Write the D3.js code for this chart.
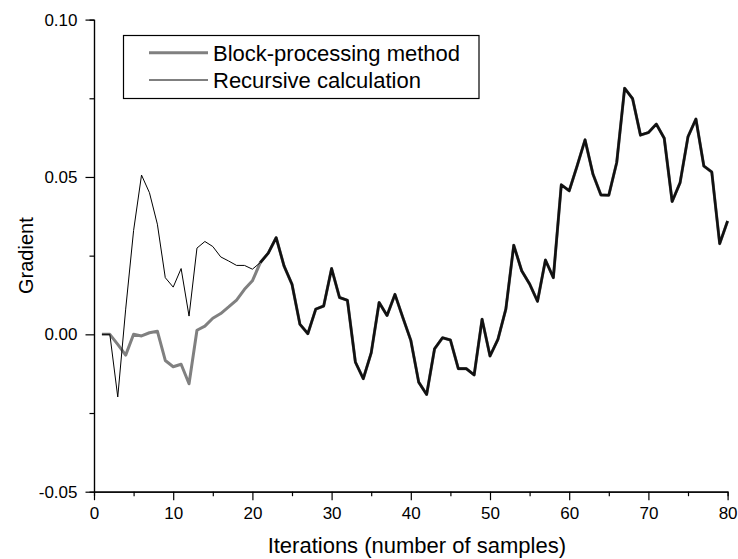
<!DOCTYPE html>
<html>
<head>
<meta charset="utf-8">
<script src="https://cdn.jsdelivr.net/npm/d3@7"></script>
<style>
  body { margin: 0; background: #fff; }
  svg { display: block; font-family: "Liberation Sans", Arial, sans-serif; }
  .axis path, .axis line { stroke: #000; stroke-width: 1.2; }
  .axis text { font-size: 17px; fill: #000; }
</style>
</head>
<body>
<div class="chart"></div>
<script>
// iterations 1..80 on the x axis
const iterations = d3.range(1, 81);

// first 20 iterations differ, after that both methods give the same gradient
const blockHead = [0, 0, -0.0032, -0.0066, 0, -0.0005, 0.0005, 0.001, -0.0083, -0.0103,
  -0.0095, -0.0157, 0.0013, 0.0026, 0.0051, 0.0066, 0.0087, 0.0109, 0.0143, 0.017];
const recursiveHead = [0, 0, -0.0199, 0.008, 0.033, 0.0506, 0.045, 0.035, 0.018, 0.015,
  0.0209, 0.0058, 0.0274, 0.0295, 0.0279, 0.0246, 0.0233, 0.0219, 0.0219, 0.0207];
const sharedTail = [0.0228, 0.0258, 0.0307, 0.0217, 0.0159, 0.0032, 0.0002, 0.008, 0.009, 0.0209,
  0.0117, 0.0108, -0.0088, -0.0141, -0.0059, 0.0101, 0.006, 0.0127, 0.0053, -0.0019,
  -0.0152, -0.0191, -0.0046, -0.0011, -0.0018, -0.0109, -0.0109, -0.0129, 0.0048, -0.0069,
  -0.0016, 0.008, 0.0283, 0.0202, 0.016, 0.0105, 0.0236, 0.018, 0.0475, 0.0456,
  0.0535, 0.0618, 0.0509, 0.0443, 0.0442, 0.0546, 0.0782, 0.0749, 0.0633, 0.0641,
  0.0668, 0.0623, 0.0422, 0.0482, 0.0628, 0.0684, 0.0535, 0.0516, 0.0288, 0.036];

const blockValues = blockHead.concat(sharedTail);
const recursiveValues = recursiveHead.concat(sharedTail);

const xTicks = [0, 10, 20, 30, 40, 50, 60, 70, 80];
const yTicks = [-0.05, 0, 0.05, 0.10];
const yTickLabels = ["-0.05", "0.00", "0.05", "0.10"];
const seriesNames = ["Block-processing method", "Recursive calculation"];

const width = 738, height = 559;
const margin = {top: 19.6, right: 10.4, bottom: 67.3, left: 94};

const svg = d3.select(".chart").append("svg")
  .attr("width", width)
  .attr("height", height);

const xScale = d3.scaleLinear().domain([0, 80]).range([margin.left, width - margin.right]);
const yScale = d3.scaleLinear().domain([-0.05, 0.10]).range([height - margin.bottom, margin.top]);

// minor ticks first (no labels), then major ticks with labels
const xMinor = d3.axisBottom(xScale).tickValues(d3.range(5, 80, 10)).tickSize(4.5).tickFormat("");
const yMinor = d3.axisLeft(yScale).tickValues([-0.025, 0.025, 0.075]).tickSize(4.5).tickFormat("");
svg.append("g").attr("class", "axis")
  .attr("transform", `translate(0,${height - margin.bottom})`).call(xMinor);
svg.append("g").attr("class", "axis")
  .attr("transform", `translate(${margin.left},0)`).call(yMinor);

const xAxis = d3.axisBottom(xScale).tickValues(xTicks).tickSize(8.5).tickSizeOuter(0).tickPadding(7);
const yAxis = d3.axisLeft(yScale).tickValues(yTicks).tickSize(8.5).tickSizeOuter(0).tickPadding(8)
  .tickFormat((d, i) => yTickLabels[i]);   // plain hyphen, not the unicode minus d3.format gives
svg.append("g").attr("class", "axis")
  .attr("transform", `translate(0,${height - margin.bottom})`).call(xAxis);
svg.append("g").attr("class", "axis")
  .attr("transform", `translate(${margin.left},0)`).call(yAxis);
svg.selectAll(".axis .domain").attr("stroke-width", 1.4);

// axis titles
svg.append("text")
  .attr("x", (xScale(0) + xScale(80)) / 2 + 6)
  .attr("y", 553)
  .attr("text-anchor", "middle")
  .attr("font-size", 22)
  .text("Iterations (number of samples)");
svg.append("text")
  .attr("transform", `translate(33,${yScale(0.025)}) rotate(-90)`)
  .attr("text-anchor", "middle")
  .attr("font-size", 20)
  .text("Gradient");

const line = d3.line()
  .x((d, i) => xScale(iterations[i]))
  .y(d => yScale(d));

svg.append("path")
  .datum(blockValues)
  .attr("fill", "none")
  .attr("stroke", "#808080")
  .attr("stroke-width", 3)
  .attr("stroke-linejoin", "round")
  .attr("d", line);

svg.append("path")
  .datum(recursiveValues)
  .attr("fill", "none")
  .attr("stroke", "#000")
  .attr("stroke-width", 1)
  .attr("d", line);

// where both methods agree the curves overlap into one dark thick line
const sameLine = d3.line()
  .defined((d, i) => blockValues[i] === recursiveValues[i] && i >= blockHead.length)
  .x((d, i) => xScale(iterations[i]))
  .y(d => yScale(d));
svg.append("path")
  .datum(recursiveValues)
  .attr("fill", "none")
  .attr("stroke", "#111")
  .attr("stroke-width", 2.6)
  .attr("stroke-linejoin", "round")
  .attr("d", sameLine);

// legend
const legend = svg.append("g");
legend.append("rect")
  .attr("x", 123.5).attr("y", 35.5)
  .attr("width", 355.5).attr("height", 63)
  .attr("fill", "#fff").attr("stroke", "#000").attr("stroke-width", 1.2);

const legendRows = legend.selectAll(".row")
  .data(seriesNames)
  .enter().append("g")
  .attr("transform", (d, i) => `translate(0,${52.7 + i * 27.3})`);
legendRows.append("line")
  .attr("x1", 149).attr("x2", 208)
  .attr("stroke", (d, i) => i === 0 ? "#808080" : "#000")
  .attr("stroke-width", (d, i) => i === 0 ? 3 : 1);
legendRows.append("text")
  .attr("x", 213).attr("y", 8)
  .attr("font-size", 22)
  .text(d => d);
</script>
</body>
</html>
